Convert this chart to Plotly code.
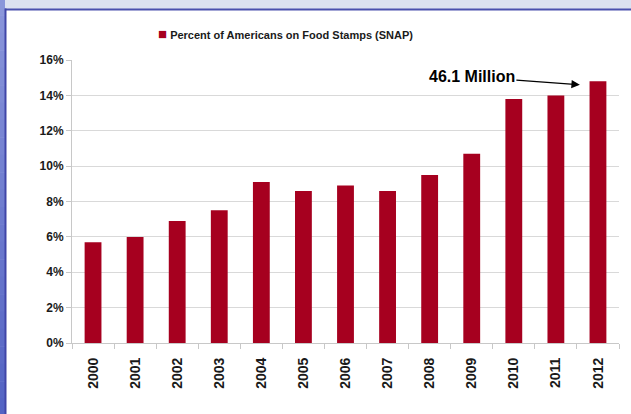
import plotly.graph_objects as go

# SNAP participation as share of the US population
years = ["2000", "2001", "2002", "2003", "2004", "2005", "2006",
         "2007", "2008", "2009", "2010", "2011", "2012"]
pct_on_snap = [5.7, 6.0, 6.9, 7.5, 9.1, 8.6, 8.9, 8.6, 9.5, 10.7, 13.8, 14.0, 14.8]
y_ticks = [0, 2, 4, 6, 8, 10, 12, 14, 16]
y_tick_text = [f"<b>{v}%</b>" for v in y_ticks]
series_name = "Percent of Americans on Food Stamps (SNAP)"
callout_text = "46.1 Million"

BAR_COLOR = "#a6001f"
W, H = 631, 414
ML, MR, MT, MB = 72, 12, 60, 71
pw, ph = W - ML - MR, H - MT - MB


def px_x(p):
    return (p - ML) / pw


def px_y(p):
    return 1 - (p - MT) / ph


font_family = "Liberation Sans, Arial, sans-serif"

fig = go.Figure()
fig.add_trace(go.Bar(
    x=years, y=pct_on_snap, name=series_name,
    marker=dict(color=BAR_COLOR, line=dict(width=0)),
    showlegend=False,
))

shapes = []
# frame: light top band, shaded left band and blue edges
shapes.append(dict(type="rect", xref="paper", yref="paper",
                   x0=px_x(-2), x1=px_x(W + 2), y0=px_y(9), y1=px_y(-2),
                   fillcolor="#dce1f0", line=dict(width=0), layer="above"))
n_steps = 24
for i in range(n_steps):
    t = i / (n_steps - 1)
    r = int(138 + (84 - 138) * t)
    g = int(150 + (100 - 150) * t)
    b = int(218 + (196 - 218) * t)
    y0 = -2 + (H + 4) * i / n_steps
    y1 = -2 + (H + 4) * (i + 1) / n_steps + 0.5
    shapes.append(dict(type="rect", xref="paper", yref="paper",
                       x0=px_x(-2), x1=px_x(5), y0=px_y(y1), y1=px_y(y0),
                       fillcolor=f"rgb({r},{g},{b})", line=dict(width=0),
                       layer="above"))
shapes.append(dict(type="line", xref="paper", yref="paper",
                   x0=px_x(5), x1=px_x(W + 2), y0=px_y(9.5), y1=px_y(9.5),
                   line=dict(color="#4a50ad", width=2), layer="above"))
shapes.append(dict(type="line", xref="paper", yref="paper",
                   x0=px_x(5.5), x1=px_x(5.5), y0=px_y(8.5), y1=px_y(H + 2),
                   line=dict(color="#4046a8", width=2), layer="above"))

# series key above the plot
fig.add_annotation(
    x=px_x(285), y=px_y(33), xref="paper", yref="paper",
    xanchor="center", yanchor="middle", showarrow=False,
    text=(f"<span style='color:{BAR_COLOR};font-size:15px'>■</span> "
          f"<b>{series_name}</b>"),
    font=dict(family=font_family, size=11, color="#1a1a1a"),
)

fig.add_annotation(
    x=11.57, y=14.6, xref="x", yref="y",
    text=f"<b>{callout_text}</b>",
    showarrow=True, arrowhead=2, arrowsize=1.3, arrowwidth=1.3,
    arrowcolor="#000000", ax=-108, ay=-8,
    font=dict(family=font_family, size=16, color="#000000"),
)

fig.update_layout(
    width=W, height=H,
    margin=dict(l=ML, r=MR, t=MT, b=MB),
    paper_bgcolor="white", plot_bgcolor="white",
    bargap=0.6,
    shapes=shapes,
    font=dict(family=font_family, color="#1a1a1a"),
    xaxis=dict(
        type="category", showgrid=False, showline=True,
        linecolor="#c8c8c8", linewidth=1,
        ticks="outside", ticklen=5, tickcolor="#c8c8c8",
        tickson="boundaries", tickangle=-90,
        tickvals=years, ticktext=[f"<b>{y}</b>" for y in years],
        ticklabelstandoff=8,
        tickfont=dict(family=font_family, size=14, color="#1a1a1a"),
        range=[-0.5, 12.5],
    ),
    yaxis=dict(
        range=[0, 16], tickvals=y_ticks, ticktext=y_tick_text,
        showgrid=True, gridcolor="#d9d9d9", gridwidth=1,
        showline=True, linecolor="#c8c8c8", linewidth=1,
        ticks="outside", ticklen=5, tickcolor="#c8c8c8",
        zeroline=False,
        tickfont=dict(family=font_family, size=12, color="#1a1a1a"),
    ),
)

fig.write_html("out.html")
